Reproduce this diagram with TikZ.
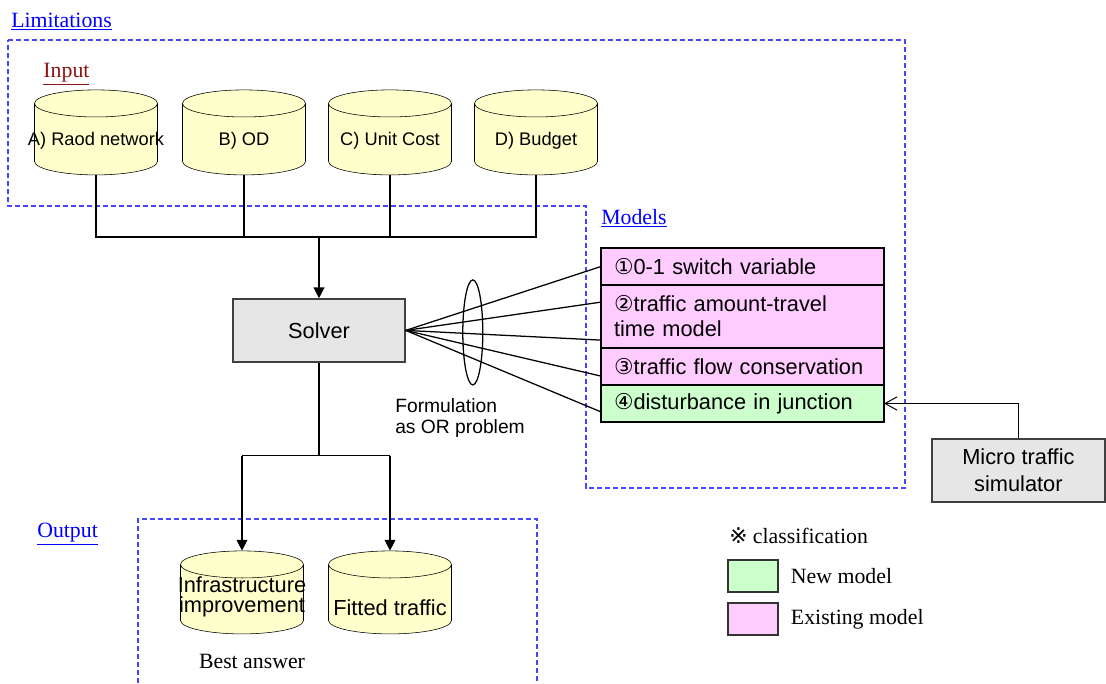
\documentclass[tikz,border=0pt]{standalone}
\usepackage{fontspec}
\setmainfont{Liberation Serif}
\setsansfont{Liberation Sans}
\newfontfamily\symfont{DejaVu Sans}
\usepackage{xcolor}
\usepackage{tikz}
\usetikzlibrary{arrows.meta, positioning, shapes.geometric}
\definecolor{dbyellow}{RGB}{255,255,204}
\definecolor{existpink}{RGB}{255,204,255}
\definecolor{newgreen}{RGB}{204,255,204}
\definecolor{boxgray}{RGB}{230,230,230}
\definecolor{linkblue}{RGB}{0,0,255}
\definecolor{dashblue}{RGB}{70,70,255}
\definecolor{inred}{RGB}{140,20,20}

\begin{document}
\begin{tikzpicture}[
    font=\sffamily\fontsize{15.5}{19}\selectfont,
    db/.style={cylinder, shape border rotate=90, draw, fill=dbyellow, aspect=0.22,
        minimum width=3.075cm, inner sep=0pt, anchor=shape center},
    dbtext/.style={inner sep=0pt, align=center},
    greybox/.style={draw=black!75, fill=boxgray, line width=1pt, align=center, inner sep=0pt},
    modelrow/.style={draw, line width=1.6pt, minimum width=7.075cm, text width=6.425cm,
        align=left, inner sep=0pt, outer sep=0pt, anchor=north,
        font=\sffamily\fontsize{15.5}{17.8}\selectfont},
    heading/.style={font=\rmfamily\fontsize{15.5}{19}\selectfont, anchor=base west, inner sep=0pt},
    limit/.style={dashblue, line width=0.8pt, dash pattern=on 0.125cm off 0.075cm},
    conn/.style={line width=0.9pt},
    tri/.style={-{Triangle[length=0.27cm,width=0.27cm]}},
    keybox/.style={draw=black!80, line width=1pt, minimum width=1.25cm, minimum height=0.8cm, inner sep=0pt}
]
    \useasboundingbox (0,0) rectangle (27.65,-17.075);
    % Limitations and input data
    \node[heading, linkblue] (limlbl) at (0.275,-0.68) {\underline{Limitations}};
    \draw[limit] (0.2,-1.0) -- (22.625,-1.0) -- (22.625,-12.2) -- (14.65,-12.2)
        -- (14.65,-5.15) -- (0.2,-5.15) -- cycle;
    \node[heading, inred] (inlbl) at (1.08,-1.94) {\underline{Input}};
    \node[db, minimum height=2.125cm] (in1) at (2.4,-3.31) {\rule{3.075cm}{0pt}};
    \node[db, minimum height=2.125cm] (in2) at (6.1,-3.31) {\rule{3.075cm}{0pt}};
    \node[db, minimum height=2.125cm] (in3) at (9.75,-3.31) {\rule{3.075cm}{0pt}};
    \node[db, minimum height=2.125cm] (in4) at (13.4,-3.31) {\rule{3.075cm}{0pt}};
    \node[dbtext, font=\sffamily\fontsize{13}{15}\selectfont] (in1txt) at ([yshift=-0.21cm]in1.shape center) {A) Raod network};
    \node[dbtext, font=\sffamily\fontsize{13}{15}\selectfont] (in2txt) at ([yshift=-0.21cm]in2.shape center) {B) OD};
    \node[dbtext, font=\sffamily\fontsize{13}{15}\selectfont] (in3txt) at ([yshift=-0.21cm]in3.shape center) {C) Unit Cost};
    \node[dbtext, font=\sffamily\fontsize{13}{15}\selectfont] (in4txt) at ([yshift=-0.21cm]in4.shape center) {D) Budget};
    % Solver
    \node[greybox, minimum width=4.3cm, minimum height=1.575cm] (solver) at (7.975,-8.26) {Solver};
    \coordinate (bus) at (7.975,-5.925);
    \draw[conn] (in1.south) |- (in4.south |- bus) -- (in4.south);
    \draw[conn] (in2.south) -- (in2.south |- bus);
    \draw[conn] (in3.south) -- (in3.south |- bus);
    \draw[conn, tri] (solver.north |- bus) -- (solver.north);
    % Models
    \node[heading, linkblue] (modlbl) at (15.025,-5.6) {\underline{Models}};
    \node[modelrow, fill=existpink, minimum height=0.925cm] (m1) at (18.5625,-6.2) {{\symfont ①}0-1 switch variable};
    \node[modelrow, fill=existpink, minimum height=1.575cm, below=0pt of m1] (m2) {{\symfont ②}traffic amount-travel\\time model};
    \node[modelrow, fill=existpink, minimum height=0.925cm, below=0pt of m2] (m3) {{\symfont ③}traffic flow conservation};
    \node[modelrow, fill=newgreen, minimum height=0.925cm, below=0pt of m3] (m4) {{\symfont ④}disturbance in junction};
    \foreach \dy/\row in {0/m1, 0.36/m2, -0.59/m2, -0.24/m3, -0.21/m4}
        \draw[conn] (solver.east) -- ([yshift=\dy cm]\row.west);
    \node[draw, ellipse, line width=0.9pt, minimum width=0.5cm, minimum height=2.625cm, inner sep=0pt] (orring) at (11.82,-8.31) {};
    \node[anchor=west, align=left, inner sep=0pt, font=\sffamily\fontsize{13.7}{15}\selectfont] (orlbl) at (9.875,-10.45) {Formulation\\as OR problem};
    \node[greybox, minimum width=4.325cm, minimum height=1.575cm] (micro) at (25.46,-11.76) {Micro traffic\\simulator};
    \draw[line width=0.7pt, -{Straight Barb[length=0.3cm,width=0.33cm]}] (micro.north) |- (m4.east);
    % Output
    \node[heading, linkblue] (outlbl) at (0.925,-13.44) {\underline{Output}};
    \draw[limit] (3.45,-17.075) -- (3.45,-12.975) -- (13.425,-12.975) -- (13.425,-17.075);
    \node[db, minimum height=2.075cm] (out1) at (6.05,-14.81) {\rule{3.075cm}{0pt}};
    \node[db, minimum height=2.075cm] (out2) at (9.75,-14.81) {\rule{3.075cm}{0pt}};
    \node[dbtext, font=\sffamily\fontsize{15.5}{14.5}\selectfont] (out1txt) at ([yshift=-0.11cm]out1.shape center) {Infrastructure\\improvement};
    \node[dbtext] (out2txt) at ([yshift=-0.39cm]out2.shape center) {Fitted traffic};
    \coordinate (split) at (7.975,-11.39);
    \draw[conn] (solver.south) -- (split);
    \draw[conn] (out1.north |- split) -- (out2.north |- split);
    \draw[conn, tri] (out1.north |- split) -- (out1.north);
    \draw[conn, tri] (out2.north |- split) -- (out2.north);
    \node[inner sep=0pt, font=\rmfamily\fontsize{15.5}{19}\selectfont] (bestlbl) at (6.3,-16.54) {Best answer};
    % Classification key
    \node[heading] (clslbl) at (18.225,-13.575) {{\symfont ※} classification};
    \node[keybox, fill=newgreen] (newbox) at (18.825,-14.4) {};
    \node[keybox, fill=existpink] (oldbox) at (18.825,-15.475) {};
    \node[inner sep=0pt, font=\rmfamily\fontsize{15.5}{19}\selectfont, right=0.3cm of newbox] (newlbl) {New model};
    \node[inner sep=0pt, font=\rmfamily\fontsize{15.5}{19}\selectfont, right=0.3cm of oldbox] (oldlbl) {Existing model};
\end{tikzpicture}
\end{document}
